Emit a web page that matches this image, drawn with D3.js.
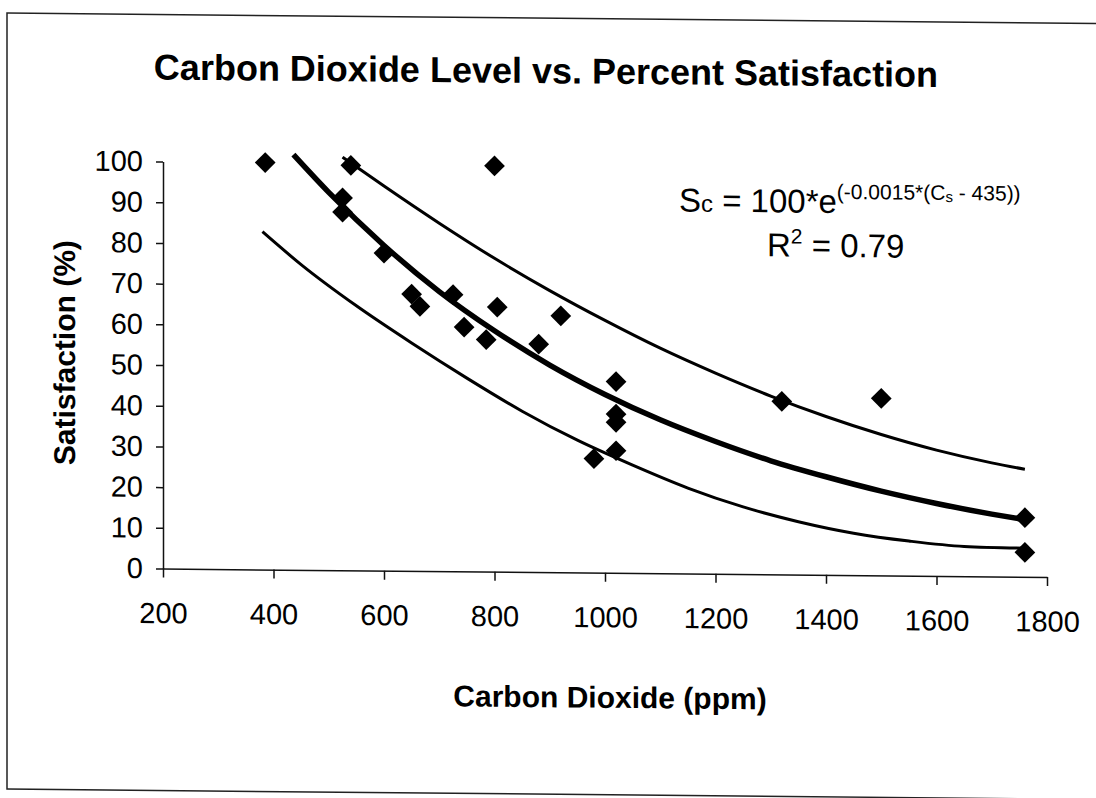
<!DOCTYPE html>
<html>
<head>
<meta charset="utf-8">
<script src="https://cdn.jsdelivr.net/npm/d3@7"></script>
<style>
  html, body { margin: 0; padding: 0; background: #fff; }
  svg { display: block; }
</style>
</head>
<body>
<div id="chart-container"></div>
<script>
// measured points (CO2 ppm, satisfaction %)
const co2 = [385, 540, 800, 525, 525, 600, 650, 665, 725, 745, 785, 805, 880, 920, 980, 1020, 1020, 1020, 1020, 1320, 1500, 1760, 1760];
const satisfaction = [100, 99.5, 99.7, 91.5, 88, 78, 68, 65, 68, 60, 57, 65, 56, 63, 28, 47, 39, 37, 30, 42.5, 43.5, 14.5, 6];

// trend line (thick)
const fitCO2 = [436, 500, 600, 700, 800, 900, 1000, 1100, 1200, 1300, 1400, 1500, 1600, 1700, 1760];
const fitSat = [102, 92.8, 79.9, 68.7, 59.2, 50.9, 43.8, 37.7, 32.5, 27.9, 24.1, 20.7, 17.8, 15.3, 14];

// upper and lower bounding curves (thin)
const upperCO2 = [525, 600, 700, 800, 900, 1000, 1100, 1200, 1300, 1400, 1500, 1600, 1700, 1760];
const upperSat = [101.5, 94.5, 85.5, 77, 69.2, 62, 55.3, 49.3, 43.8, 38.9, 34.6, 30.9, 27.9, 26.4];
const lowerCO2 = [380, 450, 550, 650, 750, 850, 950, 1050, 1150, 1250, 1350, 1450, 1550, 1650, 1760];
const lowerSat = [83, 75, 65, 56, 47.5, 39.5, 32.5, 26.5, 21, 16.5, 13, 10.3, 8.5, 7.3, 7];

const xTicks = [200, 400, 600, 800, 1000, 1200, 1400, 1600, 1800];
const yTicks = [0, 10, 20, 30, 40, 50, 60, 70, 80, 90, 100];

const width = 1096;
const height = 798;
const font = '"Liberation Sans", Arial, sans-serif';

const svg = d3.select('#chart-container')
  .append('svg')
  .attr('width', width)
  .attr('height', height);

// the scanned page is slightly sheared
const page = svg.append('g')
  .attr('transform', 'skewY(0.544)');

page.append('rect')
  .attr('x', 7)
  .attr('y', 13)
  .attr('width', 1100)
  .attr('height', 776)
  .attr('fill', 'none')
  .attr('stroke', '#222')
  .attr('stroke-width', 1.5);

page.append('text')
  .attr('x', 546)
  .attr('y', 78)
  .attr('text-anchor', 'middle')
  .attr('font-family', font)
  .attr('font-weight', 'bold')
  .attr('font-size', 36)
  .text('Carbon Dioxide Level vs. Percent Satisfaction');

const xScale = d3.scaleLinear().domain([200, 1800]).range([163, 1047]);
const yScale = d3.scaleLinear().domain([0, 100]).range([567, 160]);

const xAxis = d3.axisBottom(xScale)
  .tickValues(xTicks)
  .tickFormat(d3.format('d'))
  .tickSize(9)
  .tickSizeOuter(0)
  .tickPadding(25);

page.append('g')
  .attr('transform', `translate(0, ${yScale(0)})`)
  .call(xAxis)
  .attr('font-size', 29)
  .attr('font-family', font)
  .call(g => g.selectAll('path, line').attr('stroke', '#111').attr('stroke-width', 1.5));

const yAxis = d3.axisLeft(yScale)
  .tickValues(yTicks)
  .tickSize(7)
  .tickSizeOuter(0)
  .tickPadding(13);

page.append('g')
  .attr('transform', `translate(${xScale(200)}, 0)`)
  .call(yAxis)
  .attr('font-size', 29)
  .attr('font-family', font)
  .call(g => g.selectAll('path, line').attr('stroke', '#111').attr('stroke-width', 1.5));

page.append('text')
  .attr('x', 610)
  .attr('y', 702)
  .attr('text-anchor', 'middle')
  .attr('font-family', font)
  .attr('font-weight', 'bold')
  .attr('font-size', 30)
  .text('Carbon Dioxide (ppm)');

page.append('text')
  .attr('transform', 'translate(75, 352) rotate(-90)')
  .attr('text-anchor', 'middle')
  .attr('font-family', font)
  .attr('font-weight', 'bold')
  .attr('font-size', 30)
  .text('Satisfaction (%)');

// curves
const line = d3.line()
  .x(d => xScale(d[0]))
  .y(d => yScale(d[1]))
  .curve(d3.curveMonotoneX);

const curves = [
  { pts: d3.zip(upperCO2, upperSat), w: 3 },
  { pts: d3.zip(lowerCO2, lowerSat), w: 3 },
  { pts: d3.zip(fitCO2, fitSat), w: 5.5 }
];

page.selectAll('path.curve')
  .data(curves)
  .enter()
  .append('path')
  .attr('class', 'curve')
  .attr('d', d => line(d.pts))
  .attr('fill', 'none')
  .attr('stroke', '#000')
  .attr('stroke-width', d => d.w);

// diamonds
const diamond = d3.symbol().type(d3.symbolSquare).size(215);

page.selectAll('path.point')
  .data(d3.zip(co2, satisfaction))
  .enter()
  .append('path')
  .attr('class', 'point')
  .attr('d', diamond)
  .attr('transform', d => `translate(${xScale(d[0])}, ${yScale(d[1])}) rotate(45)`)
  .attr('fill', '#000');

// equation text
const eq = page.append('text')
  .attr('x', 679)
  .attr('y', 205)
  .attr('font-family', font)
  .attr('font-size', 33);
eq.append('tspan').text('S');
eq.append('tspan').attr('font-size', 24).text('c');
eq.append('tspan').text(' = 100*e');
const sup = eq.append('tspan').attr('font-size', 21).attr('dy', -14);
sup.append('tspan').text('(-0.0015*(C');
sup.append('tspan').attr('font-size', 15).attr('dy', 2).text('s');
sup.append('tspan').attr('dy', -2).text(' - 435))');

const r2 = page.append('text')
  .attr('x', 767)
  .attr('y', 249)
  .attr('font-family', font)
  .attr('font-size', 33);
r2.append('tspan').text('R');
r2.append('tspan').attr('font-size', 21).attr('dy', -13).text('2');
r2.append('tspan').attr('dy', 13).text(' = 0.79');
</script>
</body>
</html>
